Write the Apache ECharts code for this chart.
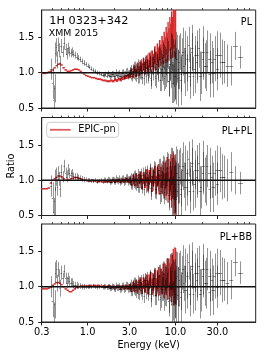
<!DOCTYPE html>
<html><head><meta charset="utf-8">
<script src="https://cdn.jsdelivr.net/npm/echarts@6/dist/echarts.min.js"></script>
<style>html,body{margin:0;padding:0;background:#fff}#c{width:266px;height:358px}</style>
</head><body><div id="c"></div>
<script>
// ---- data ----
const blackEnergy = [
  0.38,0.40,0.41,0.42,0.43,0.44,0.45,0.46,0.47,0.48,0.50,0.52,0.54,0.56,0.58,0.60,0.62,0.64,0.66,0.69,0.72,0.75,0.78,0.82,0.86,0.90,0.95,
  1.00,1.05,1.10,1.16,1.22,1.28,1.35,1.42,1.50,1.58,1.66,1.75,1.85,1.95,2.05,2.15,2.27,2.40,2.52,2.65,2.80,2.95,
  3.05,3.15,3.25,3.35,3.45,3.55,3.65,3.75,3.85,3.95,4.10,4.25,4.40,4.55,4.70,4.85,5.00,5.15,5.30,5.50,
  5.70,5.90,6.10,6.30,6.50,6.70,6.90,7.10,7.30,7.50,7.70,7.90,8.10,8.35,8.60,8.85,9.10,9.35,9.60,9.85,
  10.1,10.4,10.8,11.2,11.6,12.0,12.5,13.0,13.5,14.1,14.7,15.3,16.0,16.8,17.6,18.5,19.5,20.5,21.7,23.0,
  24.5,26.0,28.0,30.0,32.5,35.5,39.0,43.0,48.0,55.0];
const blackError = [
  0.15,0.22,0.2,0.2,0.15,0.13,0.12,0.1,0.1,0.12,0.1,0.08,0.09,0.08,0.08,0.08,0.07,0.06,0.06,0.05,0.05,0.05,0.04,0.04,0.04,0.04,0.03,
  0.03,0.03,0.03,0.03,0.03,0.03,0.03,0.03,0.03,0.035,0.035,0.04,0.04,0.04,0.045,0.045,0.05,0.05,0.05,0.055,0.06,0.06,
  0.06,0.07,0.07,0.07,0.08,0.08,0.08,0.09,0.09,0.09,0.1,0.1,0.1,0.11,0.11,0.12,0.12,0.12,0.13,0.13,
  0.14,0.14,0.15,0.15,0.16,0.16,0.17,0.17,0.18,0.18,0.19,0.2,0.21,0.22,0.24,0.26,0.28,0.32,0.36,0.42,
  0.4,0.34,0.28,0.26,0.25,0.24,0.25,0.24,0.26,0.25,0.28,0.26,0.28,0.27,0.3,0.28,0.3,0.3,0.32,0.3,
  0.33,0.3,0.32,0.3,0.32,0.3,0.3,0.28,0.2,0.16];
const blackRatioPL = [
  1.05,0.85,0.62,0.78,1.28,1.36,1.18,1.4,1.32,1.12,1.38,1.3,1.42,1.33,1.27,1.35,1.3,1.28,1.3,1.27,1.25,1.23,1.21,1.19,1.16,1.14,1.12,
  1.10,1.08,1.06,1.04,1.02,1.0,0.99,0.98,0.97,0.98,0.96,0.97,0.96,0.98,0.95,0.97,0.99,0.96,1.0,0.97,1.01,0.98,
  1.02,0.96,1.05,0.98,1.08,0.95,1.03,1.1,0.94,1.06,1.0,1.12,0.92,1.08,1.15,0.97,1.05,1.18,0.9,1.1,
  1.2,0.95,1.12,1.02,1.22,0.9,1.15,1.05,1.25,0.92,1.18,1.0,1.28,0.88,1.12,1.3,0.85,1.15,0.95,1.05,
  0.95,1.2,1.05,1.3,0.98,1.25,1.1,1.35,1.0,1.4,1.08,1.3,0.95,1.25,1.15,1.35,1.0,1.2,1.1,1.3,
  0.98,1.15,1.2,1.05,1.25,1.15,1.1,1.1,1.38,1.22];
const blackRatioPLPL = [
  0.92,0.75,0.55,0.7,1.0,1.05,0.9,1.1,1.02,0.88,1.12,1.05,1.2,1.1,1.05,1.15,1.1,1.08,1.1,1.06,1.05,1.05,1.04,1.03,1.02,1.01,1.01,
  1.0,1.0,0.99,0.99,1.0,0.98,0.99,1.0,0.98,1.0,0.99,1.0,0.98,1.01,0.98,1.0,1.02,0.99,1.02,0.99,1.03,1.0,
  1.0,0.94,1.03,0.96,1.06,0.93,1.0,1.07,0.91,1.03,0.97,1.08,0.88,1.04,1.1,0.93,1.0,1.12,0.85,1.04,
  1.13,0.88,1.05,0.95,1.14,0.82,1.07,0.97,1.17,0.84,1.09,0.91,1.19,0.79,1.02,1.2,0.75,1.05,0.85,0.95,
  0.85,1.1,0.95,1.2,0.88,1.15,1.0,1.25,0.9,1.3,0.98,1.2,0.85,1.15,1.05,1.25,0.9,1.1,1.0,1.2,
  0.88,1.05,1.1,0.95,1.15,1.05,1.0,1.12,1.0,0.96];
const blackRatioPLBB = [
  1.0,0.8,0.58,0.75,1.2,1.25,1.05,1.25,1.15,0.98,1.2,1.12,1.22,1.12,1.06,1.12,1.08,1.06,1.06,1.03,1.02,1.02,1.01,1.01,1.0,1.0,1.0,
  1.0,1.0,1.0,1.01,1.0,0.99,1.0,1.01,0.99,1.0,0.99,1.0,0.98,1.0,0.97,0.99,1.0,0.97,1.01,0.98,1.01,0.98,
  1.0,0.94,1.03,0.96,1.05,0.92,1.0,1.07,0.9,1.02,0.96,1.08,0.87,1.03,1.1,0.92,1.0,1.12,0.84,1.04,
  1.13,0.88,1.05,0.95,1.15,0.82,1.08,0.97,1.18,0.84,1.1,0.92,1.2,0.8,1.03,1.22,0.76,1.06,0.86,0.97,
  0.9,1.15,1.0,1.25,0.92,1.2,1.05,1.3,0.95,1.35,1.02,1.25,0.9,1.2,1.1,1.3,0.95,1.15,1.05,1.25,
  0.92,1.1,1.15,1.0,1.2,1.1,1.05,1.1,1.35,1.2];

const black2Energy = [
  1.55,1.7,1.8,1.9,2.0,2.1,2.2,2.33,2.46,2.6,2.72,2.87,3.0,3.1,3.2,3.3,3.4,3.5,3.6,3.7,
  3.8,3.9,4.02,4.18,4.33,4.48,4.63,4.78,4.93,5.08,5.23,5.4,5.6,5.8,6.0,6.2,6.4,6.6,6.8,7.0,
  7.2,7.4,7.6,7.8,8.0,8.2,8.48,8.73,8.98,9.23,9.48,9.73,9.97,10.25,10.6,
  11.0,11.5,12.2,12.9,13.7,14.5,15.5,16.5,17.8,19.2,20.8,22.5,24.5,27.0,30.0,34.0];
const black2Error = [
  0.04,0.04,0.045,0.045,0.05,0.05,0.05,0.055,0.055,0.06,0.06,0.065,0.07,0.07,0.075,0.075,0.08,0.08,0.085,0.085,
  0.09,0.09,0.095,0.1,0.1,0.105,0.11,0.11,0.115,0.12,0.12,0.125,0.13,0.135,0.14,0.145,0.15,0.155,0.16,0.165,
  0.17,0.175,0.18,0.185,0.19,0.2,0.21,0.22,0.24,0.26,0.28,0.3,0.34,0.38,0.4,
  0.38,0.36,0.34,0.33,0.32,0.32,0.33,0.34,0.35,0.35,0.36,0.36,0.36,0.35,0.34,0.32];
const black2RatioPL = [
  0.97,0.99,0.95,0.98,0.96,1.0,0.97,0.95,0.99,0.96,1.0,0.97,0.99,1.04,0.95,1.02,1.07,0.97,1.04,0.93,
  1.06,1.0,1.1,0.94,1.05,1.12,0.96,1.08,1.0,1.14,0.93,1.1,1.02,1.16,0.92,1.12,1.05,1.2,0.9,1.1,
  1.0,1.22,0.95,1.15,1.05,1.25,0.88,1.12,1.02,1.28,0.85,1.1,0.95,1.2,0.92,
  1.15,0.9,1.3,1.0,1.2,0.95,1.35,1.05,1.25,0.95,1.3,1.1,1.2,1.0,1.25,1.15];
const black2RatioPLPL = [
  1.0,1.01,0.98,1.0,0.99,1.02,0.99,0.98,1.01,0.98,1.02,0.99,1.0,1.03,0.94,1.01,1.05,0.95,1.02,0.91,
  1.04,0.98,1.07,0.91,1.02,1.09,0.93,1.05,0.97,1.1,0.89,1.06,0.98,1.12,0.87,1.07,1.0,1.15,0.85,1.05,
  0.95,1.16,0.9,1.1,0.99,1.18,0.82,1.05,0.95,1.2,0.78,1.02,0.88,1.1,0.85,
  1.05,0.8,1.2,0.9,1.1,0.85,1.25,0.95,1.15,0.85,1.2,1.0,1.1,0.9,1.15,1.05];
const black2RatioPLBB = [
  1.0,1.0,0.98,1.0,0.98,1.01,0.99,0.97,1.0,0.97,1.01,0.98,0.99,1.03,0.94,1.01,1.05,0.95,1.02,0.91,
  1.04,0.98,1.07,0.91,1.02,1.09,0.93,1.05,0.97,1.1,0.9,1.07,0.99,1.13,0.88,1.08,1.01,1.16,0.86,1.06,
  0.97,1.18,0.91,1.12,1.0,1.2,0.84,1.07,0.97,1.22,0.8,1.05,0.9,1.12,0.88,
  1.1,0.85,1.25,0.95,1.15,0.9,1.3,1.0,1.2,0.9,1.25,1.05,1.15,0.95,1.2,1.1];

const redEnergy = [
  0.30,0.32,0.34,0.36,0.38,0.40,0.42,0.44,0.46,0.48,0.50,0.53,0.56,0.59,0.62,0.65,0.68,0.71,0.75,0.79,0.83,0.87,0.91,0.96,
  1.01,1.06,1.12,1.18,1.24,1.30,1.37,1.44,1.51,1.59,1.67,1.76,1.85,1.95,2.05,2.15,2.26,2.37,2.49,2.62,2.75,2.89,
  3.03,3.15,3.28,3.41,3.55,3.69,3.84,3.99,4.15,4.31,4.48,4.65,4.83,5.01,5.2,5.4,5.6,5.8,6.0,6.2,
  6.4,6.6,6.8,7.0,7.2,7.4,7.6,7.8,8.0,8.2,8.4,8.6,8.8,9.0,9.2,9.4,9.6,9.8,10.0];
const redError = [
  0.01,0.01,0.01,0.01,0.01,0.01,0.01,0.01,0.01,0.01,0.01,0.01,0.01,0.01,0.01,0.01,0.01,0.01,0.01,0.01,0.01,0.01,0.01,0.01,
  0.01,0.01,0.01,0.01,0.012,0.012,0.012,0.013,0.013,0.014,0.015,0.015,0.016,0.017,0.018,0.02,0.02,0.022,0.024,0.026,0.028,0.03,
  0.04,0.045,0.05,0.055,0.06,0.065,0.07,0.075,0.08,0.085,0.09,0.095,0.1,0.105,0.11,0.115,0.12,0.125,0.13,0.135,
  0.14,0.145,0.15,0.16,0.17,0.18,0.19,0.2,0.21,0.22,0.23,0.24,0.25,0.27,0.29,0.31,0.33,0.36,0.4];
const redRatioPL = [
  1.0,0.99,1.0,1.01,1.02,1.04,1.07,1.10,1.12,1.13,1.11,1.07,1.04,1.02,1.02,1.03,1.04,1.05,1.05,1.04,1.02,1.0,0.98,0.96,
  0.95,0.94,0.93,0.93,0.92,0.91,0.91,0.90,0.89,0.89,0.88,0.88,0.89,0.88,0.9,0.89,0.91,0.9,0.92,0.93,0.94,0.95,
  0.97,1.02,0.97,1.05,1.0,1.08,1.02,1.1,1.06,1.12,1.07,1.15,1.09,1.18,1.12,1.2,1.15,1.25,1.17,1.28,
  1.22,1.32,1.25,1.36,1.29,1.4,1.32,1.45,1.36,1.5,1.4,1.55,1.45,1.6,1.5,1.65,1.55,1.72,1.6];
const redRatioPLPL = [
  0.88,0.88,0.88,0.89,0.96,1.0,1.02,1.04,1.06,1.06,1.05,1.02,1.0,1.0,1.01,1.02,1.03,1.04,1.04,1.03,1.02,1.01,1.0,1.0,
  0.99,0.99,1.0,0.99,0.99,0.98,0.99,0.98,0.99,0.98,0.98,0.99,0.98,1.0,0.98,0.99,1.0,0.98,1.0,0.99,1.01,0.99,
  1.0,0.96,1.03,0.97,1.04,0.96,1.02,1.05,0.95,1.03,0.98,1.06,0.94,1.04,1.07,0.95,1.03,1.08,0.93,1.05,
  1.09,0.94,1.04,0.97,1.1,0.92,1.06,0.98,1.12,0.9,1.07,0.96,1.12,0.88,1.03,1.1,0.86,1.0,0.88];
const redRatioPLBB = [
  0.97,0.97,0.97,0.98,1.0,1.02,1.04,1.06,1.06,1.05,1.03,1.0,0.97,0.95,0.93,0.93,0.95,0.97,0.99,1.0,1.01,1.01,1.01,1.01,
  1.01,1.02,1.01,1.02,1.01,1.02,1.01,1.0,1.01,1.0,1.0,1.01,0.99,1.0,0.99,1.0,1.0,0.98,1.0,0.99,1.0,0.99,
  1.0,0.97,1.02,0.98,1.04,0.97,1.03,1.06,0.98,1.05,1.01,1.08,0.99,1.07,1.1,1.0,1.07,1.12,0.99,1.1,
  1.14,1.02,1.11,1.05,1.16,1.02,1.14,1.08,1.19,1.04,1.17,1.1,1.21,1.05,1.16,1.23,1.06,1.2,1.15];

const xTickLabels = [0.3, 1.0, 3.0, 10.0, 30.0];
const xMinorTicks = [0.4,0.5,0.6,0.7,0.8,0.9,2,4,5,6,7,8,9,20,40,50,60,70];
const yTicks = [0.5, 1.0, 1.5];
const panelLabels = ['PL', 'PL+PL', 'PL+BB'];
const seriesName = 'EPIC-pn';
const sourceName = '1H 0323+342';
const obsName = 'XMM 2015';
const xName = 'Energy (keV)';
const yName = 'Ratio';

// ---- build ----
const FONT = 'DejaVu Sans';
const xMin = Math.log10(0.3), xMax = Math.log10(82);
const yMin = 0.5, yMax = 1.89;
const tops = [10, 117.5, 224];
const H = 98;
const blackSets = [blackRatioPL, blackRatioPLPL, blackRatioPLBB];
const black2Sets = [black2RatioPL, black2RatioPLPL, black2RatioPLBB];
const redSets = [redRatioPL, redRatioPLPL, redRatioPLBB];

function makeItems(energies, ratios, errors) {
  const lx = energies.map(e => Math.log10(e));
  return lx.map((x, i) => {
    const lo = i > 0 ? (lx[i-1] + x) / 2 : x - (lx[i+1] - x) / 2;
    const hi = i < lx.length - 1 ? (x + lx[i+1]) / 2 : x + (x - lx[i-1]) / 2;
    return [x, ratios[i], errors[i], lo, hi];
  });
}

function blackRender(params, api) {
  const x = api.value(0), y = api.value(1), e = api.value(2);
  const t = api.coord([x, y + e]), b = api.coord([x, y - e]);
  const l = api.coord([api.value(3), y]), r = api.coord([api.value(4), y]);
  const st = {stroke: 'rgba(0,0,0,0.42)', lineWidth: 1};
  const xs = Math.round(t[0]) + 0.5, ys = Math.round(l[1]) + 0.5;
  return {type: 'group', children: [
    {type: 'line', shape: {x1: xs, y1: t[1], x2: xs, y2: b[1]}, style: st},
    {type: 'line', shape: {x1: l[0], y1: ys, x2: r[0], y2: ys}, style: st}
  ]};
}
function redRender(params, api) {
  const y = api.value(1), e = api.value(2);
  const a = api.coord([api.value(3), y + e]);
  const b = api.coord([api.value(4), y - e]);
  let h = b[1] - a[1], top = a[1];
  if (h < 1.5) { top -= (1.5 - h) / 2; h = 1.5; }
  return {type: 'rect', shape: {x: a[0], y: top, width: b[0] - a[0] + 0.4, height: h},
          style: {fill: '#d62728'}};
}

const grid = [], xAxis = [], yAxis = [], series = [], graphic = [];
for (let p = 0; p < 3; p++) {
  grid.push({left: 41.7, width: 214, top: tops[p], height: H, show: true,
             borderColor: '#222', borderWidth: 1, backgroundColor: 'transparent'});
  xAxis.push({type: 'value', gridIndex: p, min: xMin, max: xMax,
    axisLine: {show: true, onZero: false, lineStyle: {color: '#222', width: 1}},
    axisTick: {show: true, inside: false, length: 3.5, lineStyle: {color: '#222', width: 1},
               customValues: xTickLabels.map(v => Math.log10(v))},
    axisLabel: {show: p === 2, customValues: xTickLabels.map(v => Math.log10(v)),
                formatter: v => Math.pow(10, v).toFixed(1), fontSize: 9.8, fontFamily: FONT,
                color: '#000', margin: 5},
    splitLine: {show: false}});
  xAxis.push({type: 'value', gridIndex: p, min: xMin, max: xMax,
    axisLine: {show: false, onZero: false},
    axisTick: {show: true, inside: false, length: 2, lineStyle: {color: '#222', width: 0.8},
               customValues: xMinorTicks.map(v => Math.log10(v))},
    axisLabel: {show: false}, splitLine: {show: false}});
  yAxis.push({type: 'value', gridIndex: p, min: yMin, max: yMax,
    axisLine: {show: true, onZero: false, lineStyle: {color: '#222', width: 1}},
    axisTick: {show: true, inside: false, length: 3.5, lineStyle: {color: '#222', width: 1},
               customValues: yTicks},
    axisLabel: {show: true, customValues: yTicks, formatter: v => v.toFixed(1),
                fontSize: 9.8, fontFamily: FONT, color: '#000', margin: 7.5},
    splitLine: {show: false}});
  series.push({type: 'custom', name: seriesName, xAxisIndex: 2*p, yAxisIndex: p,
    renderItem: redRender, clip: true, z: 2, silent: true,
    itemStyle: {color: '#d62728'},
    data: makeItems(redEnergy, redSets[p], redError)});
  series.push({type: 'custom', name: 'other', xAxisIndex: 2*p, yAxisIndex: p,
    renderItem: blackRender, clip: true, z: 3, silent: true,
    data: makeItems(blackEnergy, blackSets[p], blackError)});
  series.push({type: 'custom', name: 'other2', xAxisIndex: 2*p, yAxisIndex: p,
    renderItem: blackRender, clip: true, z: 3, silent: true,
    data: makeItems(black2Energy, black2Sets[p], black2Error)});
  series.push({type: 'line', name: 'unity', xAxisIndex: 2*p, yAxisIndex: p,
    data: [[xMin, 1], [xMax, 1]], symbol: 'none', z: 4, silent: true,
    lineStyle: {color: '#111', width: 1.3}});
  graphic.push({type: 'text', right: 266 - 252, top: tops[p] + [7, 8.5, 8][p],
    style: {text: panelLabels[p], font: '9.6px "DejaVu Sans"', fill: '#000'}});
}
graphic.push({type: 'text', left: 49.3, top: 15.5,
  style: {text: sourceName, font: '11.3px "DejaVu Sans"', fill: '#000'}});
graphic.push({type: 'text', left: 48.8, top: 29.5,
  style: {text: obsName, font: '9.4px "DejaVu Sans"', fill: '#000'}});
graphic.push({type: 'text', x: 11, y: 166, rotation: Math.PI / 2,
  style: {text: yName, font: '9.7px "DejaVu Sans"', fill: '#000', align: 'center', verticalAlign: 'middle'}});
graphic.push({type: 'text', x: 148.7, y: 345,
  style: {text: xName, font: '9.7px "DejaVu Sans"', fill: '#000', align: 'center', verticalAlign: 'middle'}});

const chart = echarts.init(document.getElementById('c'), null, {renderer: 'canvas'});
chart.setOption({
  animation: false,
  backgroundColor: '#fff',
  grid, xAxis, yAxis, series, graphic,
  legend: {data: [{name: seriesName, icon: 'rect', itemStyle: {color: 'rgba(214,39,40,0.75)'}}],
    selectedMode: false, left: 46.7, top: 122.3, itemWidth: 20.7, itemHeight: 1.8,
    padding: [2.5, 3, 2.5, 3.3], borderColor: '#ccc', borderWidth: 1, borderRadius: 3,
    backgroundColor: 'rgba(255,255,255,0.85)',
    textStyle: {fontSize: 9.7, fontFamily: FONT, color: '#000', padding: [0, 0, 0, 2.6]}}
});
</script>
</body></html>
